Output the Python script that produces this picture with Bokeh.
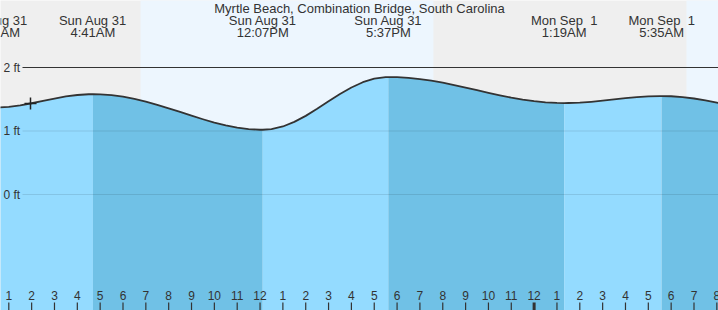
from bokeh.plotting import figure
from bokeh.models import Range1d
from bokeh.core.properties import value
from bokeh.embed import file_html
from bokeh.resources import INLINE

# ---- data (hours since midnight, Sun Aug 31) ----
ext_hours = [0.35, 4.683, 12.117, 17.617, 25.317, 29.583, 37.0]
ext_ft = [1.37, 1.58, 1.02, 1.85, 1.44, 1.55, 1.12]
ext_date = ["Sun Aug 31", "Sun Aug 31", "Sun Aug 31", "Sun Aug 31",
            "Mon Sep\u00a0\u00a01", "Mon Sep\u00a0\u00a01", ""]
ext_time = ["12:21AM", "4:41AM", "12:07PM", "5:37PM", "1:19AM", "5:35AM", ""]

halfhour_hours = [0.5 * k for k in range(1, 67)]
halfhour_ft = [1.371, 1.381, 1.404, 1.437, 1.474, 1.511, 1.544, 1.567, 1.579, 1.577,
               1.564, 1.540, 1.506, 1.463, 1.413, 1.358, 1.300, 1.242, 1.185, 1.132,
               1.088, 1.053, 1.030, 1.020, 1.030, 1.071, 1.143, 1.238, 1.349, 1.467,
               1.582, 1.685, 1.768, 1.825, 1.849, 1.847, 1.837, 1.818, 1.792, 1.761,
               1.724, 1.684, 1.642, 1.601, 1.561, 1.525, 1.494, 1.469, 1.451, 1.442,
               1.441, 1.447, 1.460, 1.477, 1.497, 1.517, 1.533, 1.545, 1.550, 1.547,
               1.534, 1.512, 1.483, 1.447, 1.406, 1.361]

sun_rise = [6.766, 30.67]
sun_set = [19.59]

now_hour = [1.95]
now_ft = [1.433]

tick_hours = list(range(1, 33))
tick_labels = [str(h) for h in range(1, 13)] + [str(h) for h in range(1, 13)] + [str(h) for h in range(1, 9)]

y_ticks = [2, 1, 0]
y_tick_labels = ["2 ft", "1 ft", "0 ft"]

title = "Myrtle Beach, Combination Bridge, South Carolina"

# ---- layout ----
W, H = 718, 310
PX_PER_HR = 22.84
X0 = 1 - 8.3 / PX_PER_HR
X1 = X0 + W / PX_PER_HR
Y_TOP = 194 / 63.5
Y_BOT = (194 - 310) / 63.5


def py(pix):
    return Y_TOP - pix * (Y_TOP - Y_BOT) / H


def px(pix):
    return X0 + pix / PX_PER_HR


NIGHT = "#efefef"
DAY = "#edf6fe"
RISE = "#94dbff"
FALL = "#70c1e6"
TXT = "#333333"
FONT = value("Liberation Sans")

p = figure(width=W, height=H, x_range=Range1d(X0, X1), y_range=Range1d(Y_BOT, Y_TOP),
           output_backend="svg", toolbar_location=None, min_border=0,
           background_fill_color=NIGHT, border_fill_color=NIGHT, outline_line_color=None)
p.axis.visible = False
p.grid.visible = False

# day bands
day_left = [sun_rise[0], sun_rise[1]]
day_right = [sun_set[0], X1 + 2]
p.quad(left=day_left, right=day_right, bottom=Y_BOT - 1, top=Y_TOP + 1,
       fill_color=DAY, line_color=None)

# tide series
pts = sorted(list(zip(ext_hours, ext_ft)) + list(zip(halfhour_hours, halfhour_ft)))
xs = [a for a, b in pts]
ys = [b for a, b in pts]

for i in range(len(ext_hours) - 1):
    a, b = ext_hours[i], ext_hours[i + 1]
    sx = [x for x in xs if a <= x <= b]
    sy = [y for x, y in pts if a <= x <= b]
    col = RISE if ext_ft[i + 1] > ext_ft[i] else FALL
    p.varea(x=sx, y1=[Y_BOT - 1] * len(sx), y2=sy, fill_color=col)

# grid lines
gx0 = px(22)
p.segment(x0=[gx0], y0=[y_ticks[0]], x1=[X1 + 1], y1=[y_ticks[0]], line_color="#333333", line_width=1)
p.segment(x0=[gx0] * 2, y0=y_ticks[1:], x1=[X1 + 1] * 2, y1=y_ticks[1:],
          line_color="#000000", line_alpha=0.1, line_width=1)

p.line(xs, ys, line_color="#333333", line_width=1.8, line_join="round")

p.scatter(now_hour, now_ft, marker="cross", size=12, line_color="#222222", line_width=1.5)

# y labels
p.text(x=[px(3)] * 3, y=y_ticks, text=y_tick_labels, text_font=FONT, text_font_size="12px",
       text_color=TXT, text_baseline="middle", text_align="left")

# top labels
lab_x = [h for h, d in zip(ext_hours, ext_date) if d]
p.text(x=lab_x, y=[py(20)] * len(lab_x), text=[d for d in ext_date if d], text_font=FONT,
       text_font_size="13px", text_color=TXT, text_baseline="middle", text_align="center")
p.text(x=lab_x, y=[py(32)] * len(lab_x), text=[t for t in ext_time if t], text_font=FONT,
       text_font_size="13px", text_color=TXT, text_baseline="middle", text_align="center")
p.text(x=[(X0 + X1) / 2], y=[py(8)], text=[title], text_font=FONT, text_font_size="13px",
       text_color=TXT, text_baseline="middle", text_align="center")

# bottom ticks
tw = [3 if h == 24 else 1.2 for h in tick_hours]
p.segment(x0=tick_hours, y0=[py(302)] * len(tick_hours), x1=tick_hours, y1=[py(312)] * len(tick_hours),
          line_color="#333333", line_width=tw)
p.text(x=tick_hours, y=[py(295)] * len(tick_hours), text=tick_labels, text_font=FONT,
       text_font_size="12px", text_color=TXT, text_baseline="middle", text_align="center")

open("out.html", "w").write(file_html(p, INLINE))
